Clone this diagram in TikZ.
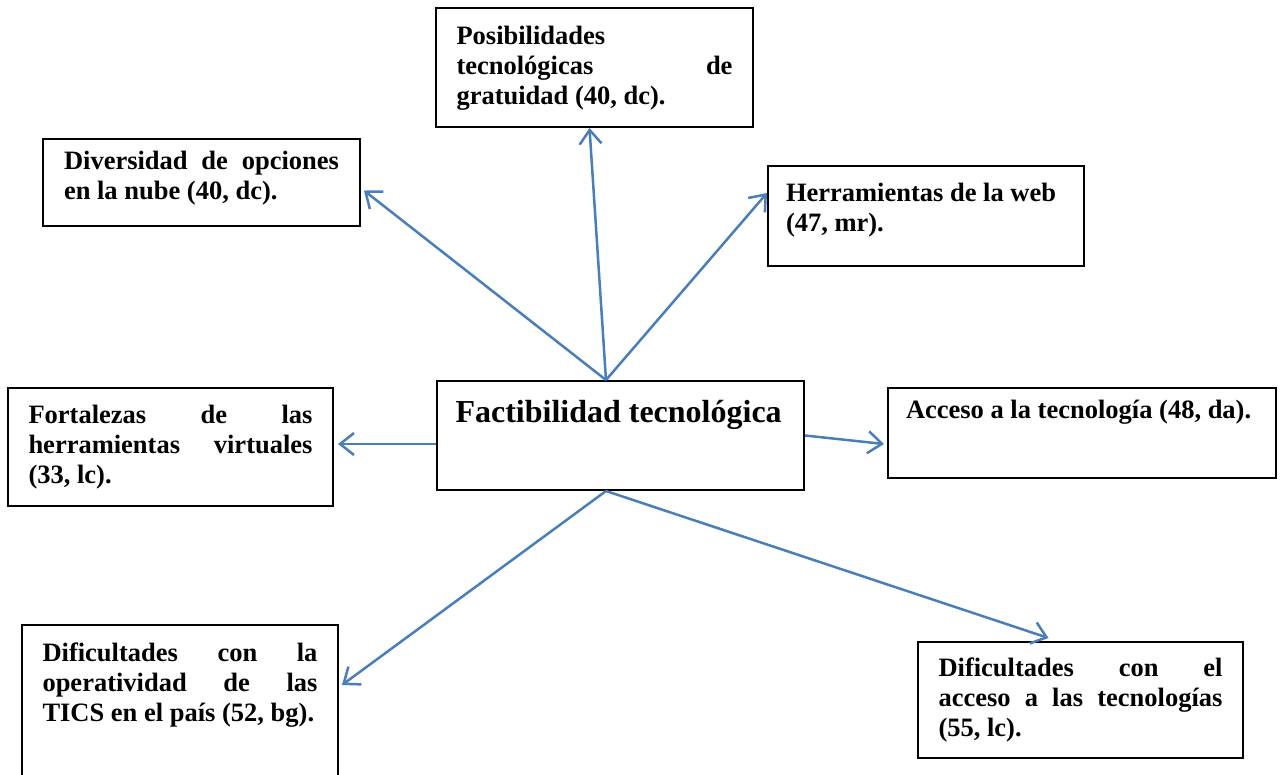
\documentclass[tikz,border=0pt]{standalone}
\usepackage{fontspec}
\setmainfont{Liberation Serif}
\usepackage{xcolor}
\usetikzlibrary{arrows.meta}
\definecolor{arrowblue}{RGB}{74,126,187}
\newcommand{\boxtext}[3]{\begin{minipage}[t][#2][t]{#1}\hyphenpenalty=10000\hbadness=10000\rule{0pt}{24pt}#3\end{minipage}}

\begin{document}
\begin{tikzpicture}[x=1pt, y=-1pt,
    box/.style={rectangle, draw, line width=2pt, anchor=north west, inner xsep=20.5pt, font=\bfseries\fontsize{26.5}{30}\selectfont},
    arrow/.style={-{Straight Barb[length=14pt,width=22pt]}, draw=arrowblue, line width=2.5pt}
]
    \useasboundingbox (0,0) rectangle (1280,774);
    \node[box, inner ysep=12pt] (posib) at (435,7) {\boxtext{276pt}{95pt}{Posibilidades\linebreak tecnológicas de\linebreak gratuidad (40, dc).}};
    \node[box, inner ysep=6pt, inner xsep=21pt] (nube) at (42,138) {\boxtext{275pt}{75pt}{Diversidad de opciones\linebreak en la nube (40, dc).}};
    \node[box, inner ysep=11pt, inner xsep=18pt] (web) at (767,165) {\boxtext{280pt}{78pt}{Herramientas de la web\\ (47, mr).}};
    \node[box, inner ysep=17pt, inner xsep=18.5pt, font=\bfseries\fontsize{32}{36}\selectfont] (fact) at (436,380) {\boxtext{330pt}{75pt}{Factibilidad tecnológica}};
    \node[box, inner ysep=11pt] (fort) at (7,387) {\boxtext{284pt}{96pt}{Fortalezas de las\linebreak herramientas virtuales\linebreak (33, lc).}};
    \node[box, inner ysep=6pt, inner xsep=18pt] (tecno) at (887,387) {\boxtext{352pt}{78pt}{Acceso a la tecnología (48, da).}};
    \node[box, inner ysep=12pt] (tics) at (21,624) {\boxtext{275pt}{136pt}{Dificultades con la\linebreak operatividad de las\linebreak TICS en el país (52, bg).}};
    \node[box, inner ysep=10pt] (acceso) at (917,641) {\boxtext{284pt}{96pt}{Dificultades con el\linebreak acceso a las tecnologías\linebreak (55, lc).}};

    \coordinate (ftop) at ([xshift=-14.5pt]fact.north);
    \coordinate (fbot) at ([xshift=-14.5pt]fact.south);
    \coordinate (fleft) at ([yshift=-8.5pt]fact.west);

    \draw[arrow] (ftop) -- ([xshift=-5pt]posib.south);
    \draw[arrow] (ftop) -- ([xshift=3pt,yshift=-8pt]nube.east);
    \draw[arrow] (ftop) -- ([yshift=23pt]web.west);
    \draw[arrow] (fleft) -- ([xshift=4pt,yshift=3pt]fort.east);
    \draw[arrow] (fact.east) -- ([xshift=-3pt,yshift=-11pt]tecno.west);
    \draw[arrow] (fbot) -- ([xshift=3pt,yshift=20pt]tics.east);
    \draw[arrow] (fbot) -- ([xshift=-32pt,yshift=3pt]acceso.north);
\end{tikzpicture}
\end{document}
